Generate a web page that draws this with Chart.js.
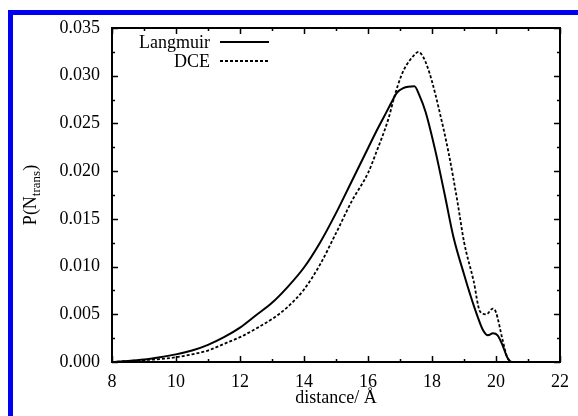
<!DOCTYPE html>
<html>
<head>
<meta charset="utf-8">
<script src="https://cdn.jsdelivr.net/npm/chart.js@4/dist/chart.umd.min.js"></script>
<style>
  html, body { margin: 0; padding: 0; background: #fff; }
  #wrap { width: 578px; height: 416px; position: relative; }
</style>
</head>
<body>
<div id="wrap"><canvas id="c" width="578" height="416"></canvas></div>
<script>
// ---- data ----
const langmuirX = [8.0, 8.5, 9.0, 9.5, 10.0, 10.5, 11.0, 11.5, 12.0, 12.5, 13.0, 13.5, 14.0, 14.5, 15.0, 15.5, 16.0, 16.25, 16.5, 16.75, 16.9, 17.1, 17.45, 17.6, 17.8, 18.1, 18.4, 18.67, 19.0, 19.2, 19.4, 19.6, 19.75, 19.9, 20.05, 20.2, 20.35, 20.5, 20.6];
const langmuirY = [0.0000, 0.0001, 0.00025, 0.0005, 0.0008, 0.0012, 0.0018, 0.0026, 0.0036, 0.0049, 0.0062, 0.0079, 0.0099, 0.0125, 0.0156, 0.0190, 0.0224, 0.0241, 0.0257, 0.0273, 0.0282, 0.0287, 0.0289, 0.0280, 0.0262, 0.0222, 0.0175, 0.0131, 0.0092, 0.0070, 0.0050, 0.0033, 0.0028, 0.0030, 0.0028, 0.0018, 0.0005, 0.0000, 0.0000];
const dceX = [8.0, 8.5, 9.0, 9.5, 10.0, 10.5, 11.0, 11.5, 12.0, 12.5, 13.0, 13.5, 14.0, 14.5, 15.0, 15.5, 16.0, 16.25, 16.63, 16.85, 17.04, 17.2, 17.4, 17.58, 17.72, 17.86, 18.0, 18.21, 18.52, 18.8, 19.0, 19.3, 19.5, 19.7, 19.9, 20.0, 20.2, 20.35, 20.5, 20.6];
const dceY = [0.0000, 0.0001, 0.0002, 0.0003, 0.0005, 0.0008, 0.0012, 0.0019, 0.0026, 0.0035, 0.0045, 0.0058, 0.0076, 0.0102, 0.0135, 0.0169, 0.0198, 0.0219, 0.0254, 0.0281, 0.0300, 0.0311, 0.0320, 0.0325, 0.0320, 0.0309, 0.0294, 0.0266, 0.0219, 0.0167, 0.0126, 0.0085, 0.0053, 0.0050, 0.0056, 0.0052, 0.0024, 0.0005, 0.0000, 0.0000];
const seriesNames = ["Langmuir", "DCE"];
const xTicks = [8, 10, 12, 14, 16, 18, 20, 22];
const yTicks = [0.000, 0.005, 0.010, 0.015, 0.020, 0.025, 0.030, 0.035];
const xTitle = "distance/ Å";
const yTitleMain = "P(N";
const yTitleSub = "trans";
const yTitleEnd = ")";

const FONT = "Liberation Serif";
Chart.defaults.font.family = FONT;
Chart.defaults.color = "#000";

function toPts(xs, ys) { return xs.map((x, i) => ({ x: x, y: ys[i] })); }

const framePlugin = {
  id: 'frame',
  beforeDraw(chart) {
    const ctx = chart.ctx;
    ctx.save();
    ctx.fillStyle = '#fff';
    ctx.fillRect(0, 0, chart.width, chart.height);
    ctx.fillStyle = '#0000f2';
    ctx.fillRect(8, 10, chart.width - 8, 5);
    ctx.fillRect(8, 10, 5, chart.height - 10);
    ctx.restore();
  },
  afterDraw(chart) {
    const ctx = chart.ctx;
    const a = chart.chartArea;
    const xs = chart.scales.x, ys = chart.scales.y;
    ctx.save();
    ctx.strokeStyle = '#000';
    ctx.lineWidth = 2;
    ctx.strokeRect(a.left, a.top, a.right - a.left, a.bottom - a.top);
    ctx.lineWidth = 1.5;
    ctx.beginPath();
    for (let v = xs.min; v <= xs.max + 1e-9; v += 1) {
      const px = Math.round(xs.getPixelForValue(v)) + 0.5;
      const len = (Math.round(v) % 2 === 0) ? 6 : 3;
      ctx.moveTo(px, a.bottom); ctx.lineTo(px, a.bottom - len);
      ctx.moveTo(px, a.top); ctx.lineTo(px, a.top + len);
    }
    for (let k = 0; k <= 14; k++) {
      const v = k * 0.0025;
      const py = Math.round(ys.getPixelForValue(v)) + 0.5;
      const len = (k % 2 === 0) ? 6 : 3;
      ctx.moveTo(a.left, py); ctx.lineTo(a.left + len, py);
      ctx.moveTo(a.right, py); ctx.lineTo(a.right - len, py);
    }
    ctx.stroke();

    // legend
    ctx.font = '18px "' + FONT + '"';
    ctx.fillStyle = '#000';
    ctx.textAlign = 'right';
    ctx.textBaseline = 'middle';
    const rows = [42, 61];
    chart.data.datasets.forEach((ds, i) => {
      ctx.fillText(ds.label, 210, rows[i] + 1);
      ctx.save();
      ctx.strokeStyle = ds.borderColor;
      ctx.lineWidth = ds.borderWidth;
      ctx.setLineDash(ds.borderDash || []);
      ctx.beginPath();
      ctx.moveTo(220, rows[i]); ctx.lineTo(269, rows[i]);
      ctx.stroke();
      ctx.restore();
    });

    // x title
    ctx.textAlign = 'center';
    ctx.textBaseline = 'alphabetic';
    ctx.fillText(xTitle, (a.left + a.right) / 2, 403);

    // y title (rotated, with subscript)
    const mainFont = '18px "' + FONT + '"';
    const subFont = '13px "' + FONT + '"';
    ctx.font = mainFont; const w1 = ctx.measureText(yTitleMain).width; const w3 = ctx.measureText(yTitleEnd).width;
    ctx.font = subFont; const w2 = ctx.measureText(yTitleSub).width;
    const total = w1 + w2 + w3;
    ctx.translate(36, (a.top + a.bottom) / 2);
    ctx.rotate(-Math.PI / 2);
    ctx.textAlign = 'left';
    let x0 = -total / 2;
    ctx.font = mainFont; ctx.fillText(yTitleMain, x0, 0); x0 += w1;
    ctx.font = subFont; ctx.fillText(yTitleSub, x0, 4); x0 += w2;
    ctx.font = mainFont; ctx.fillText(yTitleEnd, x0, 0);
    ctx.restore();
  }
};

new Chart(document.getElementById('c'), {
  type: 'scatter',
  data: {
    datasets: [
      { label: seriesNames[0], data: toPts(langmuirX, langmuirY), showLine: true, borderColor: '#000', borderWidth: 2, pointRadius: 0, cubicInterpolationMode: 'monotone', fill: false },
      { label: seriesNames[1], data: toPts(dceX, dceY), showLine: true, borderColor: '#000', borderWidth: 1.8, borderDash: [3, 2], pointRadius: 0, cubicInterpolationMode: 'monotone', fill: false }
    ]
  },
  options: {
    responsive: false,
    animation: false,
    devicePixelRatio: 1,
    layout: { padding: { left: 0, top: 28, right: 11, bottom: 0 } },
    plugins: { legend: { display: false }, tooltip: { enabled: false } },
    scales: {
      x: {
        type: 'linear', min: 8, max: 22,
        afterBuildTicks: s => { s.ticks = xTicks.map(v => ({ value: v })); },
        afterFit: s => { s.height = 54; },
        ticks: { font: { size: 18 }, color: '#000', padding: 9, maxRotation: 0, callback: v => String(v) },
        grid: { display: false, drawTicks: false },
        border: { display: false }
      },
      y: {
        type: 'linear', min: 0, max: 0.035,
        afterBuildTicks: s => { s.ticks = yTicks.map(v => ({ value: v })); },
        afterFit: s => { s.width = 112; },
        ticks: { font: { size: 18 }, color: '#000', padding: 12, callback: v => Number(v).toFixed(3) },
        grid: { display: false, drawTicks: false },
        border: { display: false }
      }
    }
  },
  plugins: [framePlugin]
});
</script>
</body>
</html>
